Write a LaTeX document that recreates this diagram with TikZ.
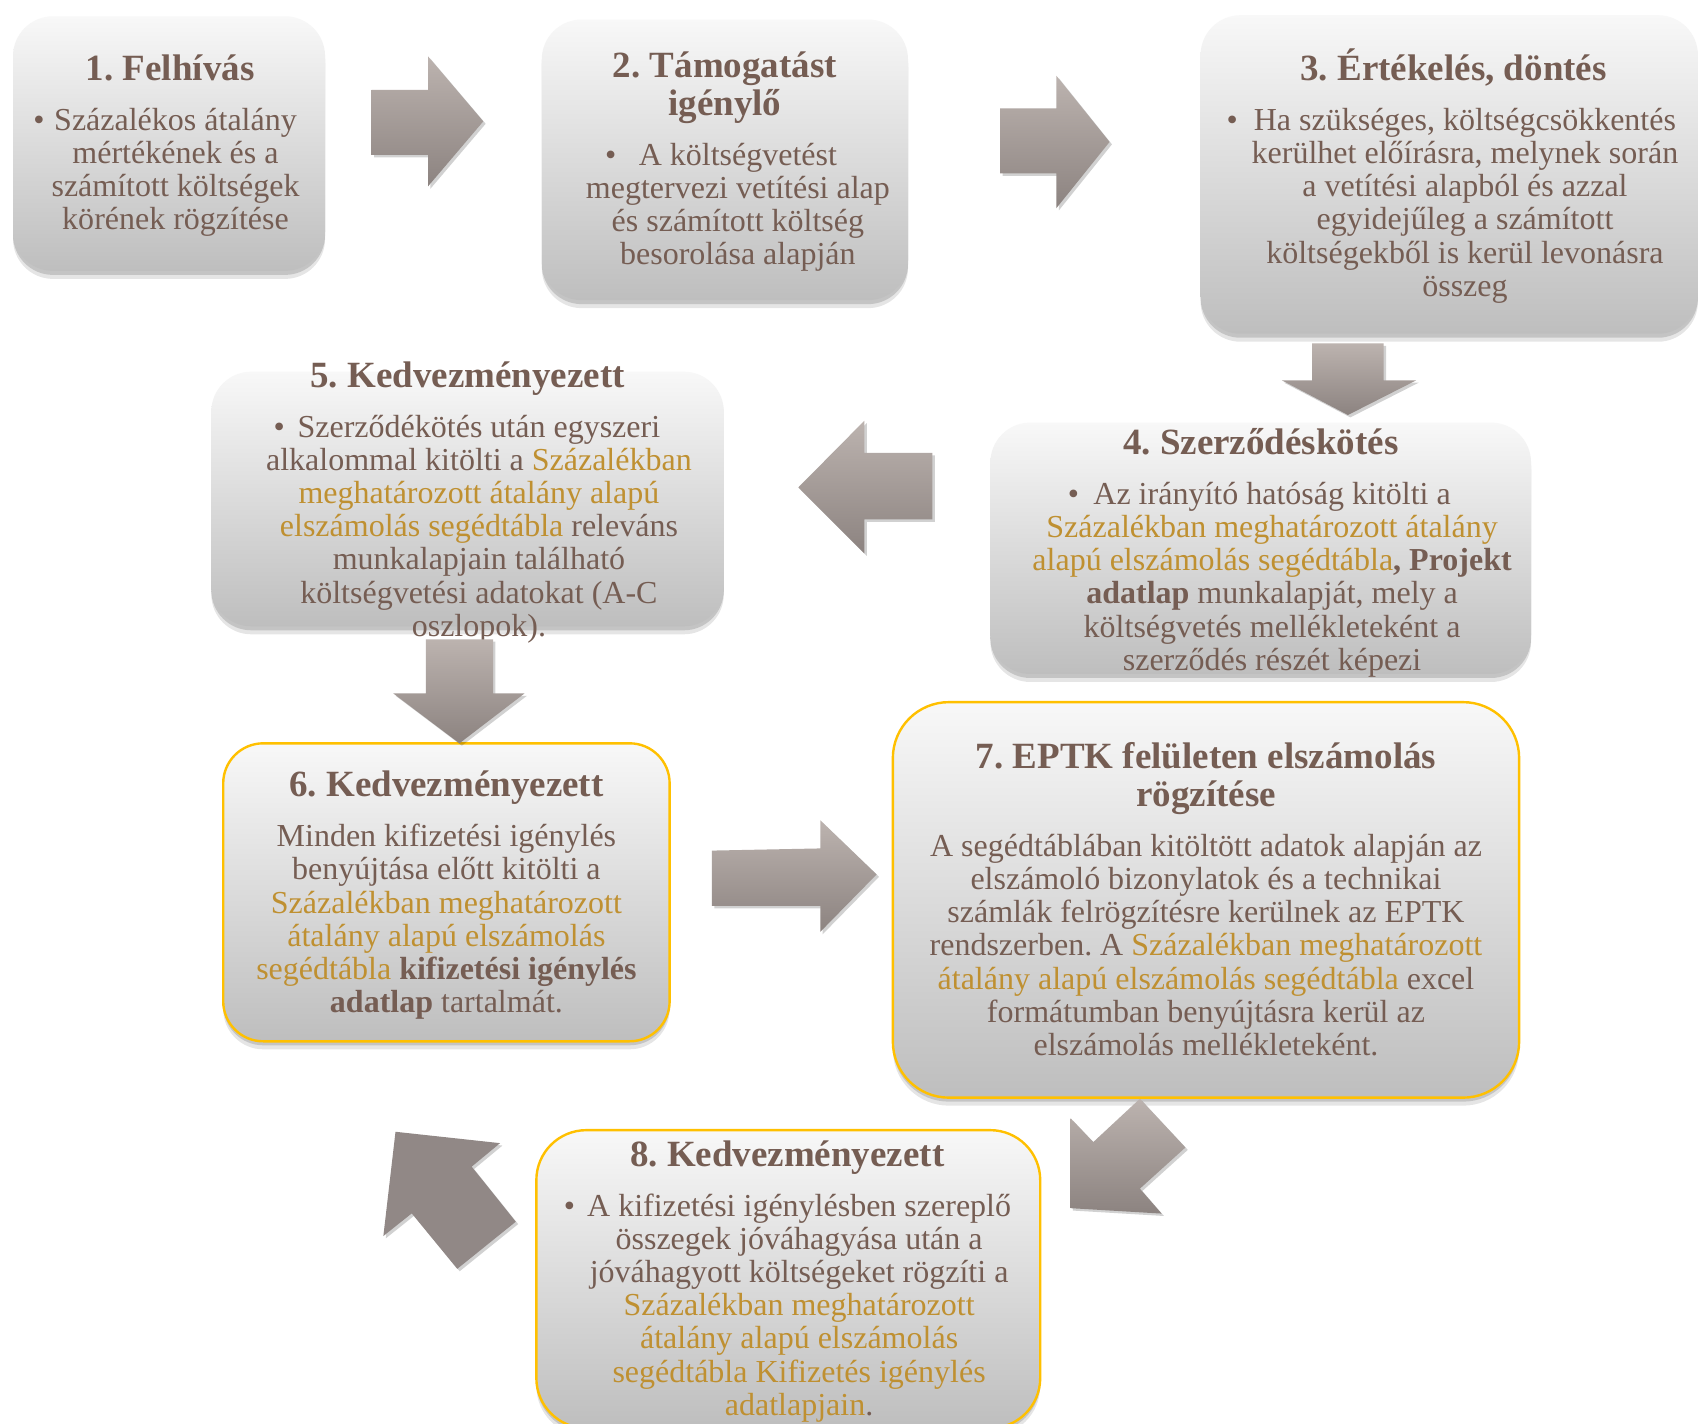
\documentclass[tikz,border=0pt]{standalone}
\usepackage{fontspec}
\setmainfont{Liberation Serif}
\usetikzlibrary{shadows}
\frenchspacing
\definecolor{tbrown}{RGB}{117,93,83}
\definecolor{tgold}{RGB}{191,144,49}
\definecolor{bgold}{RGB}{255,192,0}
\definecolor{boxtop}{RGB}{248,248,248}
\definecolor{boxbot}{RGB}{190,190,190}
\definecolor{arrtop}{RGB}{188,179,175}
\definecolor{arrbot}{RGB}{140,131,128}
\definecolor{arrflat}{RGB}{145,136,134}
\newcommand\gd[1]{\textcolor{tgold}{#1}}
\newcommand\bul[1][0.35em]{\llap{•\hspace{#1}}}
\newcommand\boxnode[6][]{%
  \node[box,#1,minimum width={(#5-#3)*0.54175pt},minimum height={(#6-#4)*0.54175pt}] (#2) at ({(#3+#5)/2},{(#4+#6)/2}) {};}
\begin{document}
\begin{tikzpicture}[x=0.54175pt,y=-0.54175pt,
  box/.style={rounded corners=20pt, top color=boxtop, bottom color=boxbot, draw=none,
    inner sep=0pt, outer sep=0pt,
    drop shadow={shadow xshift=0pt, shadow yshift=-2pt, opacity=0.14, fill=black},
    drop shadow={shadow xshift=0pt, shadow yshift=-4pt, opacity=0.10, fill=black}},
  goldbox/.style={draw=bgold, line width=1.2pt},
  txt/.style={align=center, text=tbrown, font=\fontsize{16}{16.6}\selectfont, inner sep=0pt, anchor=north},
  ttl/.style={align=center, text=tbrown, font=\fontsize{18.5}{19}\selectfont\bfseries, inner sep=0pt},
  blockarrow/.style={top color=arrtop, bottom color=arrbot, draw=none,
    drop shadow={shadow xshift=1.2pt, shadow yshift=-1.2pt, opacity=0.18, fill=black}}]
\fill[white] (0,0) rectangle (1568,1314);
\useasboundingbox (0,0) rectangle (1568,1314);
\clip (0,0) rectangle (1568,1314);

% boxes
\boxnode{b1}{12}{15}{300}{250}
\boxnode{b2}{500}{18}{838}{277}
\boxnode{b3}{1108}{14}{1567}{308}
\boxnode{b4}{914}{390}{1413}{622}
\boxnode{b5}{195}{343}{668}{578}
\boxnode[goldbox]{b6}{206}{686}{618}{961}
\boxnode[goldbox,rounded corners=28pt]{b7}{824}{648}{1402}{1013}
\boxnode[goldbox,rounded corners=25pt]{b8}{495}{1043}{960}{1318}

% texts
\node[ttl,anchor=base] (h1) at (157,74.5) {1. Felhívás};
\node[txt] (t1) at (162,98.5) {\strut\bul[0.3em]Százalékos átalány\\mértékének és a\\számított költségek\\körének rögzítése};

\node[ttl,anchor=north] (h2) at (669,47) {\strut 2. Támogatást\\igénylő};
\node[txt] (t2) at (681,130.5) {\strut\bul[0.7em]A költségvetést\\megtervezi vetítési alap\\és számított költség\\besorolása alapján};

\node[ttl,anchor=base] (h3) at (1341.5,74.5) {3. Értékelés, döntés};
\node[txt] (t3) at (1352,98.5) {\strut\bul[0.5em]Ha szükséges, költségcsökkentés\\kerülhet előírásra, melynek során\\a vetítési alapból és azzal\\egyidejűleg a számított\\költségekből is kerül levonásra\\összeg};

\node[ttl,anchor=base] (h4) at (1163.5,419.5) {4. Szerződéskötés};
\node[txt] (t4) at (1174,443.5) {\strut\bul[0.45em]Az irányító hatóság kitölti a\\\gd{Százalékban meghatározott átalány}\\\gd{alapú elszámolás segédtábla}\textbf{, Projekt}\\\textbf{adatlap} munkalapját, mely a\\költségvetés mellékleteként a\\szerződés részét képezi};

\node[ttl,anchor=base] (h5) at (431.5,357.5) {5. Kedvezményezett};
\node[txt] (t5) at (442,381.5) {\strut\bul[0.4em]Szerződékötés után egyszeri\\alkalommal kitölti a \gd{Százalékban}\\\gd{meghatározott átalány alapú}\\\gd{elszámolás segédtábla} releváns\\munkalapjain található\\költségvetési adatokat (A-C\\oszlopok).};

\node[ttl,anchor=base] (h6) at (412,735.5) {6. Kedvezményezett};
\node[txt] (t6) at (412,759.5) {\strut Minden kifizetési igénylés\\benyújtása előtt kitölti a\\\gd{Százalékban meghatározott}\\\gd{átalány alapú elszámolás}\\\gd{segédtábla} \textbf{kifizetési igénylés}\\\textbf{adatlap} tartalmát.};

\node[ttl,anchor=north] (h7) at (1113,684) {\strut 7. EPTK felületen elszámolás\\rögzítése};
\node[txt] (t7) at (1113,768.5) {\strut A segédtáblában kitöltött adatok alapján az\\elszámoló bizonylatok és a technikai\\számlák felrögzítésre kerülnek az EPTK\\rendszerben. A \gd{Százalékban meghatározott}\\\gd{átalány alapú elszámolás segédtábla} excel\\formátumban benyújtásra kerül az\\elszámolás mellékleteként.};

\node[ttl,anchor=base] (h8) at (726.5,1076.5) {8. Kedvezményezett};
\node[txt] (t8) at (737.5,1100.5) {\strut\bul[0.38em]A kifizetési igénylésben szereplő\\összegek jóváhagyása után a\\jóváhagyott költségeket rögzíti a\\\gd{Százalékban meghatározott}\\\gd{átalány alapú elszámolás}\\\gd{segédtábla Kifizetés igénylés}\\\gd{adatlapjain}.};

% block arrows
\shade[blockarrow] (343,83) -- (395,83) -- (395,52) -- (446,112) -- (395,172) -- (395,143) -- (343,143) -- cycle;
\shade[blockarrow] (923,100) -- (975,100) -- (975,70) -- (1024,131) -- (975,192) -- (975,160) -- (923,160) -- cycle;
\shade[blockarrow] (1211,317) -- (1277,317) -- (1277,351) -- (1307,351) -- (1244,383) -- (1183,351) -- (1211,351) -- cycle;
\shade[blockarrow] (860.5,418) -- (797.7,418) -- (797.7,388.3) -- (736.8,449.8) -- (797.7,510.7) -- (797.7,479.3) -- (860.5,479.3) -- cycle;
\shade[blockarrow] (393,590) -- (455,590) -- (455,640) -- (484,640) -- (424,686) -- (363,640) -- (393,640) -- cycle;
\shade[blockarrow] (657,785) -- (757,783) -- (757,757) -- (809,807) -- (757,860) -- (757,836) -- (657,836) -- cycle;
\shade[blockarrow] (1052,1014) -- (1094,1059) -- (1052,1097) -- (1072,1120) -- (988,1115) -- (988,1032) -- (1009,1054) -- cycle;
\fill[arrflat, drop shadow={shadow xshift=1.2pt, shadow yshift=-1.2pt, opacity=0.18, fill=black}] (365,1044.5) -- (461.5,1055) -- (435.3,1076.7) -- (476,1127.5) -- (422,1171) -- (380,1119.8) -- (353.8,1140.7) -- cycle;
\end{tikzpicture}
\end{document}
